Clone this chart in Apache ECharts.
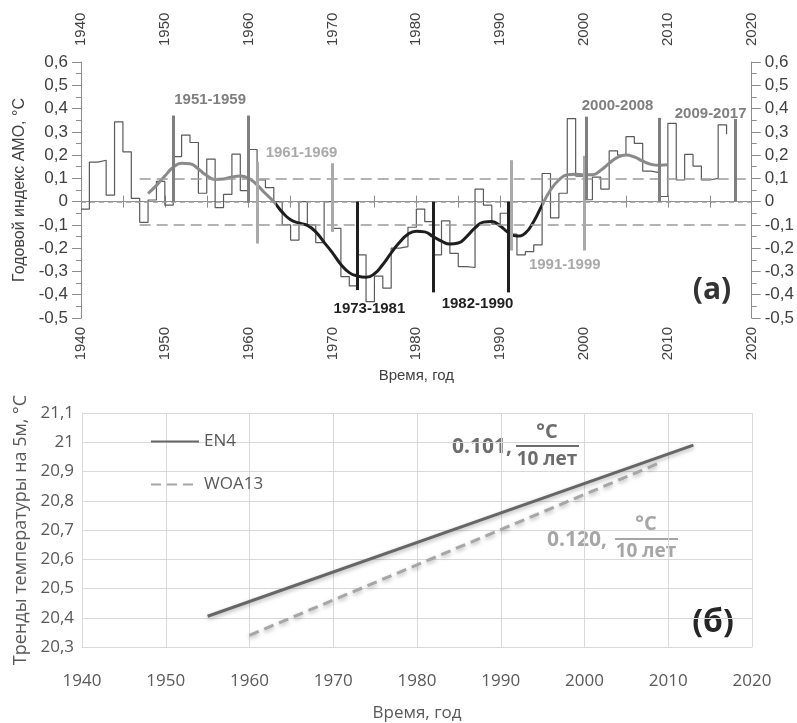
<!DOCTYPE html>
<html>
<head>
<meta charset="utf-8">
<script src="https://cdn.jsdelivr.net/npm/echarts@6/dist/echarts.min.js"></script>
<style>
  html, body { margin: 0; padding: 0; background: #fff; }
  #chart { width: 797px; height: 723px; }
</style>
</head>
<body>
<div id="chart"></div>
<script>
// (а) годовой индекс АМО, ступени по годам
var amoYears = [1940, 1941, 1942, 1943, 1944, 1945, 1946, 1947, 1948, 1949,
  1950, 1951, 1952, 1953, 1954, 1955, 1956, 1957, 1958, 1959,
  1960, 1961, 1962, 1963, 1964, 1965, 1966, 1967, 1968, 1969,
  1970, 1971, 1972, 1973, 1974, 1975, 1976, 1977, 1978, 1979,
  1980, 1981, 1982, 1983, 1984, 1985, 1986, 1987, 1988, 1989,
  1990, 1991, 1992, 1993, 1994, 1995, 1996, 1997, 1998, 1999,
  2000, 2001, 2002, 2003, 2004, 2005, 2006, 2007, 2008, 2009,
  2010, 2011, 2012, 2013, 2014, 2015, 2016, 2017];
var amoValues = [-0.032, 0.170, 0.178, 0.028, 0.343, 0.214, 0.014, -0.089, 0.007, 0.087,
  -0.015, 0.193, 0.286, 0.254, 0.036, 0.183, -0.026, 0.031, 0.204, 0.047,
  0.224, 0.093, 0.060, 0.000, -0.100, -0.165, 0.000, -0.100, -0.176, 0.000,
  -0.115, -0.322, -0.362, -0.229, -0.430, -0.320, -0.372, -0.200, -0.193, -0.110,
  -0.032, -0.086, -0.229, -0.083, -0.222, -0.279, -0.283, 0.054, -0.015, -0.097,
  -0.050, -0.140, -0.229, -0.215, -0.186, 0.121, -0.070, 0.036, 0.357, 0.110,
  0.008, 0.105, 0.054, 0.218, 0.200, 0.279, 0.250, 0.131, 0.125, 0.022,
  0.336, 0.093, 0.203, 0.153, 0.093, 0.100, 0.330, 0.290];

// сглаженная кривая
var smoothYears = [1948, 1949, 1950, 1951, 1952, 1953, 1954, 1955, 1956, 1957, 1958, 1959,
  1960, 1961, 1962, 1963, 1964, 1965, 1966, 1967, 1968, 1969,
  1970, 1971, 1972, 1973, 1974, 1975, 1976, 1977, 1978, 1979,
  1980, 1981, 1982, 1983, 1984, 1985, 1986, 1987, 1988, 1989,
  1990, 1991, 1992, 1993, 1994, 1995, 1996, 1997, 1998, 1999,
  2000, 2001, 2002, 2003, 2004, 2005, 2006, 2007, 2008, 2009, 2010];
var smoothValues = [0.035, 0.070, 0.110, 0.148, 0.165, 0.163, 0.140, 0.112, 0.095, 0.097, 0.106, 0.110,
  0.100, 0.072, 0.035, 0.000, -0.045, -0.078, -0.092, -0.102, -0.130, -0.175,
  -0.220, -0.270, -0.305, -0.320, -0.325, -0.310, -0.270, -0.220, -0.175, -0.140,
  -0.127, -0.130, -0.150, -0.170, -0.182, -0.178, -0.150, -0.113, -0.088, -0.085,
  -0.105, -0.133, -0.148, -0.135, -0.085, -0.015, 0.050, 0.093, 0.116, 0.118,
  0.116, 0.116, 0.135, 0.165, 0.190, 0.200, 0.192, 0.174, 0.160, 0.156, 0.158];

// вертикальные отрезки границ периодов
var barX    = [1951, 1960, 1961, 1970, 1973, 1982, 1991, 1991.3, 2000, 2000.3, 2009, 2018];
var barLow  = [0, -0.005, -0.18, -0.13, -0.38, -0.39, -0.39, -0.21, -0.21, 0.007, 0, 0];
var barHigh = [0.37, 0.37, 0.17, 0.165, 0, 0, 0, 0.178, 0.197, 0.365, 0.36, 0.355];
var barTone = ['dark', 'dark', 'light', 'light', 'black', 'black', 'black', 'light', 'light', 'dark', 'dark', 'dark'];

// подписи периодов
var periodLabels = ['1951-1959', '1961-1969', '1973-1981', '1982-1990', '1991-1999', '2000-2008', '2009-2017'];
var labelX = [1955.4, 1966.3, 1974.4, 1987.3, 1997.7, 2004.0, 2015.1];
var labelY = [0.436, 0.21, -0.462, -0.44, -0.272, 0.41, 0.379];
var labelTone = ['dark', 'light', 'black', 'black', 'light', 'dark', 'dark'];

// пунктирные уровни
var refY = [0.1, 0, -0.1];
var refFrom = [1947, 1940, 1947];
var refTo = [2020, 2020, 2020];

// (б) линейные тренды
var en4Years = [1955, 2013];
var en4Values = [20.405, 20.99];
var woaYears = [1960, 2009];
var woaValues = [20.34, 20.93];

var tones = { dark: '#7f7f7f', light: '#a9a9a9', black: '#1f1f1f' };
var topFont = 'Liberation Sans';
var botFont = 'Open Sans';

function zip(xs, ys) {
  return xs.map(function (x, i) { return [x, ys[i]]; });
}
function comma(v) {
  return String(Math.round(v * 10) / 10).replace('.', ',');
}
function year(v) {
  return String(Math.round(v));
}

var markLines = [];
refY.forEach(function (y, i) {
  markLines.push([
    { coord: [refFrom[i], y], lineStyle: { color: '#9a9a9a', width: 1.5, type: y === 0 ? [5, 4] : [11, 6] } },
    { coord: [refTo[i], y] }
  ]);
});
barX.forEach(function (x, i) {
  markLines.push([
    { coord: [x, barLow[i]], lineStyle: { color: tones[barTone[i]], width: 3, type: 'solid' } },
    { coord: [x, barHigh[i]] }
  ]);
});

var markPoints = periodLabels.map(function (t, i) {
  return {
    coord: [labelX[i], labelY[i]],
    symbolSize: 0,
    label: {
      show: true, position: 'inside', formatter: t,
      color: tones[labelTone[i]], fontSize: 15, fontWeight: 'bold', fontFamily: topFont
    }
  };
});

var topAxisCommon = {
  type: 'value', gridIndex: 0, min: 1940, max: 2020, interval: 10,
  axisLine: { lineStyle: { color: '#8c8c8c' } },
  axisTick: { length: 6, lineStyle: { color: '#8c8c8c' } },
  minorTick: { show: true, splitNumber: 2, length: 6, lineStyle: { color: '#8c8c8c' } },
  splitLine: { show: false },
  axisLabel: { rotate: 90, fontSize: 15, color: '#404040', fontFamily: topFont, formatter: year }
};
var topYCommon = {
  type: 'value', gridIndex: 0, min: -0.5, max: 0.6, interval: 0.1,
  axisLine: { show: true, lineStyle: { color: '#8c8c8c' } },
  axisTick: { show: true, length: 9, lineStyle: { color: '#8c8c8c' } },
  minorTick: { show: true, splitNumber: 2, length: 5, lineStyle: { color: '#8c8c8c' } },
  splitLine: { show: false },
  axisLabel: { fontSize: 17, color: '#404040', fontFamily: topFont, margin: 13, formatter: comma }
};

var chart = echarts.init(document.getElementById('chart'));
chart.setOption({
  animation: false,
  backgroundColor: '#fff',
  grid: [
    { left: 81, top: 62, width: 671, height: 256 },
    { left: 82, top: 413, width: 670, height: 239 }
  ],
  xAxis: [
    echarts.util.merge({
      position: 'bottom',
      name: 'Время, год', nameLocation: 'middle', nameGap: 50,
      nameTextStyle: { fontSize: 15, color: '#404040', fontFamily: topFont },
      axisLabel: { margin: 9 }
    }, topAxisCommon, false),
    echarts.util.merge({ position: 'top', axisLabel: { margin: 16 } }, topAxisCommon, false),
    {
      type: 'value', gridIndex: 1, min: 1940, max: 2020, interval: 10,
      axisLine: { show: true, lineStyle: { color: '#d9d9d9' } },
      axisTick: { show: false },
      splitLine: { show: true, lineStyle: { color: '#d9d9d9' } },
      axisLabel: { fontSize: 17, color: '#595959', fontFamily: botFont, margin: 26, formatter: year },
      name: 'Время, год', nameLocation: 'middle', nameGap: 58,
      nameTextStyle: { fontSize: 17, color: '#595959', fontFamily: botFont }
    }
  ],
  yAxis: [
    echarts.util.merge({
      position: 'left',
      name: 'Годовой индекс АМО, °С', nameLocation: 'middle', nameGap: 49,
      nameTextStyle: { fontSize: 16, color: '#404040', fontFamily: topFont }
    }, topYCommon, false),
    echarts.util.merge({ position: 'right' }, topYCommon, false),
    {
      type: 'value', gridIndex: 1, min: 20.3, max: 21.1, interval: 0.1,
      axisLine: { show: true, lineStyle: { color: '#d9d9d9' } },
      axisTick: { show: false },
      splitLine: { show: true, lineStyle: { color: '#d9d9d9' } },
      axisLabel: { fontSize: 17, color: '#595959', fontFamily: botFont, margin: 8, formatter: comma },
      name: 'Тренды температуры на 5м, °С', nameLocation: 'middle', nameGap: 50,
      nameTextStyle: { fontSize: 18, color: '#595959', fontFamily: botFont }
    }
  ],
  visualMap: {
    type: 'piecewise', show: false, seriesIndex: 1, dimension: 0,
    pieces: [
      { lt: 1963.2, color: '#8a8a8a' },
      { gte: 1963.2, lt: 1995, color: '#1e1e1e' },
      { gte: 1995, color: '#8a8a8a' }
    ]
  },
  legend: {
    data: ['EN4', 'WOA13'],
    orient: 'vertical', left: 145, top: 428,
    itemWidth: 48, itemHeight: 14, itemGap: 26,
    itemStyle: { opacity: 0 },
    textStyle: { fontSize: 17, color: '#595959', fontFamily: botFont }
  },
  series: [
    {
      name: 'AMO', type: 'line', step: 'end', xAxisIndex: 0, yAxisIndex: 0,
      data: zip(amoYears, amoValues), symbol: 'none',
      lineStyle: { color: '#5a5a5a', width: 1.2 },
      markLine: { silent: true, symbol: 'none', label: { show: false }, data: markLines },
      markPoint: { silent: true, data: markPoints }
    },
    {
      name: 'smooth', type: 'line', xAxisIndex: 0, yAxisIndex: 0, z: 3,
      data: zip(smoothYears, smoothValues), symbol: 'none', smooth: 0.5,
      lineStyle: { width: 3 }
    },
    {
      name: 'EN4', type: 'line', xAxisIndex: 2, yAxisIndex: 2,
      data: zip(en4Years, en4Values), symbol: 'none',
      itemStyle: { color: '#666666' },
      lineStyle: { color: '#666666', width: 3, shadowBlur: 4, shadowColor: 'rgba(0,0,0,0.3)', shadowOffsetY: 2 }
    },
    {
      name: 'WOA13', type: 'line', xAxisIndex: 2, yAxisIndex: 2,
      data: zip(woaYears, woaValues), symbol: 'none',
      itemStyle: { color: '#a6a6a6' },
      lineStyle: { color: '#a6a6a6', width: 3, type: [10, 6], shadowBlur: 4, shadowColor: 'rgba(0,0,0,0.3)', shadowOffsetY: 2 }
    }
  ],
  graphic: [
    { type: 'text', x: 712, y: 290, style: { text: '(а)', fill: '#333', font: 'bold 30px "Open Sans"', align: 'center', verticalAlign: 'middle' } },
    { type: 'text', x: 713, y: 623, style: { text: '(б)', fill: '#262626', font: 'bold 32px "Open Sans"', align: 'center', verticalAlign: 'middle' } },
    // подпись тренда EN4
    { type: 'text', x: 512, y: 447, style: { text: '0.101,', fill: '#6d6d6d', font: 'bold 21px "Open Sans"', align: 'right', verticalAlign: 'middle' } },
    { type: 'text', x: 547, y: 432, style: { text: '°С', fill: '#6d6d6d', font: 'bold 20px "Open Sans"', align: 'center', verticalAlign: 'middle' } },
    { type: 'line', shape: { x1: 516, y1: 446, x2: 579, y2: 446 }, style: { stroke: '#6d6d6d', lineWidth: 2 } },
    { type: 'text', x: 547, y: 460, style: { text: '10 лет', fill: '#6d6d6d', font: 'bold 19px "Open Sans"', align: 'center', verticalAlign: 'middle' } },
    // подпись тренда WOA13
    { type: 'text', x: 607, y: 540, style: { text: '0.120,', fill: '#a6a6a6', font: 'bold 21px "Open Sans"', align: 'right', verticalAlign: 'middle' } },
    { type: 'text', x: 646, y: 524, style: { text: '°С', fill: '#a6a6a6', font: 'bold 20px "Open Sans"', align: 'center', verticalAlign: 'middle' } },
    { type: 'line', shape: { x1: 615, y1: 539, x2: 678, y2: 539 }, style: { stroke: '#a6a6a6', lineWidth: 2 } },
    { type: 'text', x: 646, y: 552, style: { text: '10 лет', fill: '#a6a6a6', font: 'bold 19px "Open Sans"', align: 'center', verticalAlign: 'middle' } }
  ]
});
</script>
</body>
</html>
